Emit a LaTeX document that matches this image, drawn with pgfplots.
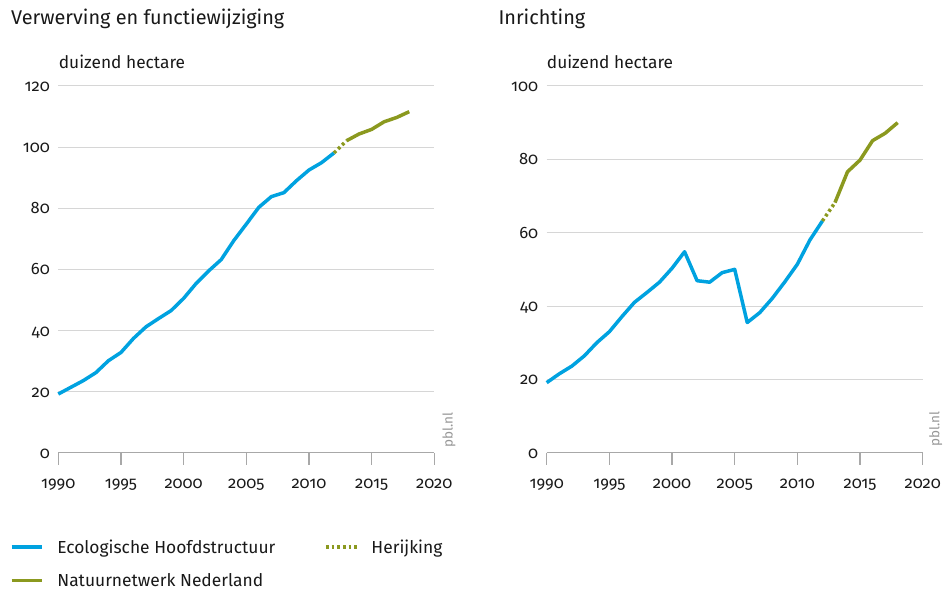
\documentclass[border=0pt]{standalone}
\usepackage{fontspec}
\setmainfont{Fira Sans}[Numbers=OldStyle]
\usepackage{pgfplots}
\pgfplotsset{compat=1.18}
\definecolor{ehsblue}{RGB}{0,162,224}
\definecolor{nnnolive}{RGB}{139,153,31}
\definecolor{gridgray}{RGB}{214,214,214}
\definecolor{axgray}{RGB}{168,168,168}
\definecolor{txt}{RGB}{25,25,25}
\definecolor{pblgray}{RGB}{150,150,150}

\tikzset{
  pblnode/.style={rotate=90, anchor=base west, inner sep=0pt, text=pblgray, font=\fontsize{13.5bp}{15bp}\selectfont},
}
\pgfplotsset{
  pbl/.style={
    scale only axis, width=376bp, height=366.7bp,
    anchor=south west,
    xmin=1990, xmax=2020, ymin=0,
    xtick={1990,1995,...,2020},
    axis x line*=bottom, axis y line*=left,
    y axis line style={draw=none},
    ytick style={draw=none},
    x axis line style={axgray, line width=1.3bp, -},
    xtick style={axgray, line width=1.3bp},
    tick align=outside, major tick length=12bp,
    ymajorgrids, grid style={gridgray, line width=1bp},
    /pgf/number format/assume math mode=true,
    /pgf/number format/1000 sep={},
    tick label style={font=\fontsize{16.5bp}{18bp}\selectfont, text=txt},
    xticklabel style={anchor=base, inner sep=0pt, yshift=-23.6bp},
    yticklabel style={anchor=base east, inner sep=0pt, xshift=3.7bp, yshift=-5.6bp},
    clip=false,
  },
  ehs/.style={ehsblue, line width=3.5bp, line join=round},
  nnn/.style={nnnolive, line width=3.5bp, line join=round},
  her/.style={nnnolive, line width=3.5bp, dash pattern=on 2.8bp off 2.9bp},
  limgfull/.style={legend image code/.code={\draw[##1] (0bp,2.5bp) -- (30.7bp,2.5bp);}},
}

\begin{document}
\begin{tikzpicture}
\useasboundingbox (0,0) rectangle (945bp,592bp);

\begin{axis}[pbl, at={(58.3bp,139.3bp)},
  ymax=120, ytick={0,20,...,120},
  legend cell align=left,
  legend style={at={(-0.1285,-0.2430)}, anchor=north west, draw=none, fill=none,
    inner sep=0pt, outer sep=0pt,
    font=\fontsize{17.4bp}{19bp}\selectfont, text=txt,
    nodes={inner sep=0pt, text height=11.5bp, text depth=4bp},
    row sep=17.9bp,
    /tikz/every odd column/.append style={column sep=13.2bp},
    /tikz/every even column/.append style={column sep=48.7bp}},
  legend columns=2,
]
\addplot[ehs, limgfull] coordinates {
 (1990,19.2) (1991,21.4) (1992,23.6) (1993,26.2) (1994,30.1) (1995,32.8)
 (1996,37.4) (1997,41.2) (1998,43.9) (1999,46.5) (2000,50.5) (2001,55.4)
 (2002,59.5) (2003,63.2) (2004,69.4) (2005,74.8) (2006,80.3) (2007,83.8)
 (2008,85.1) (2009,89.0) (2010,92.5) (2011,94.9) (2012,98.1)};
\addlegendentry{Ecologische Hoofdstructuur}
\addplot[her, limgfull] coordinates {
 (2012,98.1) (2013,102.1)};
\addlegendentry{Herijking}
\addplot[nnn, limgfull] coordinates {
 (2013,102.1) (2014,104.3) (2015,105.8) (2016,108.3) (2017,109.7) (2018,111.6)};
\addlegendentry{Natuurnetwerk Nederland}
\node[xshift=18.4bp, yshift=4.7bp, pblnode] at (rel axis cs:1,0) {pbl.nl};
\end{axis}

\begin{axis}[pbl, at={(546.7bp,139.3bp)},
  ymax=100, ytick={0,20,...,100},
]
\addplot[ehs] coordinates {
 (1990,19.1) (1991,21.5) (1992,23.6) (1993,26.4) (1994,30.0) (1995,33.0)
 (1996,37.1) (1997,41.0) (1998,43.7) (1999,46.5) (2000,50.3) (2001,54.8)
 (2002,46.9) (2003,46.5) (2004,49.1) (2005,50.0) (2006,35.5) (2007,38.2)
 (2008,42.1) (2009,46.6) (2010,51.4) (2011,58.0) (2012,63.2)};
\addplot[her] coordinates {(2012,63.2) (2013,68.2)};
\addplot[nnn] coordinates {
 (2013,68.2) (2014,76.6) (2015,79.8) (2016,85.1) (2017,87.1) (2018,90.0)};
\node[xshift=16.6bp, yshift=6bp, pblnode] at (rel axis cs:1,0) {pbl.nl};
\end{axis}

\node[anchor=base west, inner sep=0pt, text=txt, font=\fontsize{19.9bp}{22bp}\selectfont] at (11bp,567bp) {Verwerving en functiewijziging};
\node[anchor=base west, inner sep=0pt, text=txt, font=\fontsize{19.9bp}{22bp}\selectfont] at (498.3bp,567bp) {Inrichting};
\node[anchor=base west, inner sep=0pt, text=txt, font=\fontsize{17.3bp}{19bp}\selectfont] at (58.7bp,523bp) {duizend hectare};
\node[anchor=base west, inner sep=0pt, text=txt, font=\fontsize{17.3bp}{19bp}\selectfont] at (546.7bp,523bp) {duizend hectare};
\end{tikzpicture}
\end{document}
